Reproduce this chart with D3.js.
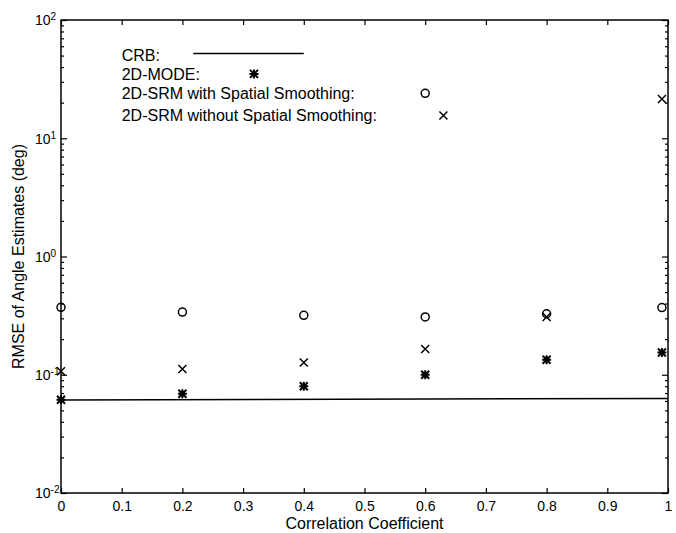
<!DOCTYPE html>
<html>
<head>
<meta charset="utf-8">
<script src="https://cdn.jsdelivr.net/npm/d3@7"></script>
<style>
  body { margin: 0; background: #fff; }
  svg { font-family: "Liberation Sans", Arial, Helvetica, sans-serif; }
</style>
</head>
<body>
<svg class="chart" width="676" height="533"></svg>
<script>
// values
const corr = [0, 0.2, 0.4, 0.6, 0.8, 0.99];
const crbX = [0, 1];
const crbVals = [0.0612, 0.063];
const modeVals = [0.0615, 0.069, 0.080, 0.100, 0.134, 0.154];
const smoothVals = [0.372, 0.339, 0.318, 0.308, 0.328, 0.37];
const noSmoothVals = [0.107, 0.112, 0.127, 0.165, 0.308, 21.5];

const xTicks = [0, 0.1, 0.2, 0.3, 0.4, 0.5, 0.6, 0.7, 0.8, 0.9, 1];
const xTickLabels = ['0', '0.1', '0.2', '0.3', '0.4', '0.5', '0.6', '0.7', '0.8', '0.9', '1'];
const yTicks = [1e-2, 1e-1, 1e0, 1e1, 1e2];
const yExps = ['-2', '-1', '0', '1', '2'];

// legend was placed in data coordinates
const legendLabels = ['CRB:', '2D-MODE:', '2D-SRM with Spatial Smoothing:', '2D-SRM without Spatial Smoothing:'];
const legendY = [50, 35, 24, 15.6];
const legendTextX = 0.1;
const legendCrbX = [0.218, 0.4];
const legendMarkX = [0.318, 0.6, 0.63];

var margins = {top: 20, right: 8, left: 61, bottom: 40};
var svg = d3.select('.chart');
const width = svg.attr('width') - margins.left - margins.right;
const height = svg.attr('height') - margins.top - margins.bottom;

var g = svg.append('g')
    .attr('transform', 'translate(' + margins.left + ',' + margins.top + ')');

var x = d3.scaleLinear().domain([0, 1]).range([0, width]);
var y = d3.scaleLog().domain([1e-2, 1e2]).range([height, 0]);

// minor log ticks
var minor = [];
for (let e = -2; e < 2; e++) {
    for (let k = 2; k < 10; k++) minor.push(k * Math.pow(10, e));
}

function styleAxis(sel) {
    sel.select('.domain').remove();
    sel.selectAll('line').attr('stroke', '#000').attr('stroke-width', 1.2);
}

// x axes, ticks pointing in
g.append('g')
    .attr('transform', 'translate(0,' + height + ')')
    .call(d3.axisBottom(x).tickValues(xTicks).tickSize(-5).tickPadding(8)
        .tickFormat((d, i) => xTickLabels[i]))
    .call(styleAxis)
    .selectAll('text')
    .attr('fill', '#000')
    .style('font-size', '14px');

g.append('g')
    .call(d3.axisTop(x).tickValues(xTicks).tickSize(-5).tickFormat(''))
    .call(styleAxis);

// y axes, left and right, major + minor
g.append('g')
    .call(d3.axisLeft(y).tickValues(yTicks).tickSize(-6).tickFormat(''))
    .call(styleAxis);
g.append('g')
    .call(d3.axisLeft(y).tickValues(minor).tickSize(-3).tickFormat(''))
    .call(styleAxis);
g.append('g')
    .attr('transform', 'translate(' + width + ',0)')
    .call(d3.axisRight(y).tickValues(yTicks).tickSize(-6).tickFormat(''))
    .call(styleAxis);
g.append('g')
    .attr('transform', 'translate(' + width + ',0)')
    .call(d3.axisRight(y).tickValues(minor).tickSize(-3).tickFormat(''))
    .call(styleAxis);

// y tick labels 10^n
var yl = g.append('g').selectAll('text')
    .data(yTicks)
    .enter().append('text')
    .attr('x', -26)
    .attr('y', d => y(d))
    .attr('dy', '0.38em')
    .style('font-size', '14px')
    .text('10');
yl.append('tspan')
    .attr('dy', '-0.5em')
    .style('font-size', '10px')
    .text((d, i) => yExps[i]);

// frame
g.append('rect')
    .attr('width', width)
    .attr('height', height)
    .attr('fill', 'none')
    .attr('stroke', '#000')
    .attr('stroke-width', 1.5);

// axis titles
svg.append('text')
    .attr('x', margins.left + width / 2)
    .attr('y', 529)
    .attr('text-anchor', 'middle')
    .style('font-size', '16px')
    .text('Correlation Coefficient');

svg.append('text')
    .attr('transform', 'translate(24,' + (margins.top + height / 2) + ') rotate(-90)')
    .attr('text-anchor', 'middle')
    .style('font-size', '16px')
    .text('RMSE of Angle Estimates (deg)');

// markers
function circleMark(sel) {
    sel.append('circle').attr('r', 4)
        .attr('fill', 'none').attr('stroke', '#000').attr('stroke-width', 1.5);
}
function xMark(sel) {
    sel.append('path').attr('d', 'M-4,-4L4,4M-4,4L4,-4')
        .attr('stroke', '#000').attr('stroke-width', 1.5);
}
function starMark(sel) {
    sel.append('path').attr('d', 'M-4,-4L4,4M-4,4L4,-4M0,-4.5L0,4.5M-4.5,0L4.5,0')
        .attr('stroke', '#000').attr('stroke-width', 2);
}

// CRB line
var line = d3.line().x(d => x(d[0])).y(d => y(d[1]));
g.append('path')
    .datum(crbX.map((v, i) => [v, crbVals[i]]))
    .attr('d', line)
    .attr('fill', 'none')
    .attr('stroke', '#000')
    .attr('stroke-width', 1.5);

function drawPoints(vals, mark) {
    g.append('g').selectAll('g')
        .data(vals)
        .enter().append('g')
        .attr('transform', (d, i) => 'translate(' + x(corr[i]) + ',' + y(d) + ')')
        .call(mark);
}
drawPoints(smoothVals, circleMark);
drawPoints(noSmoothVals, xMark);
drawPoints(modeVals, starMark);

// legend
var lg = g.append('g');
lg.selectAll('text')
    .data(legendLabels)
    .enter().append('text')
    .attr('x', x(legendTextX))
    .attr('y', (d, i) => y(legendY[i]))
    .attr('dy', '0.35em')
    .style('font-size', '16px')
    .text(d => d);

lg.append('line')
    .attr('x1', x(legendCrbX[0])).attr('x2', x(legendCrbX[1]))
    .attr('y1', y(legendY[0]) - 2).attr('y2', y(legendY[0]) - 2)
    .attr('stroke', '#000').attr('stroke-width', 1.5);

[starMark, circleMark, xMark].forEach((mark, i) => {
    lg.append('g')
        .attr('transform', 'translate(' + x(legendMarkX[i]) + ',' + y(legendY[i + 1]) + ')')
        .call(mark);
});
</script>
</body>
</html>
